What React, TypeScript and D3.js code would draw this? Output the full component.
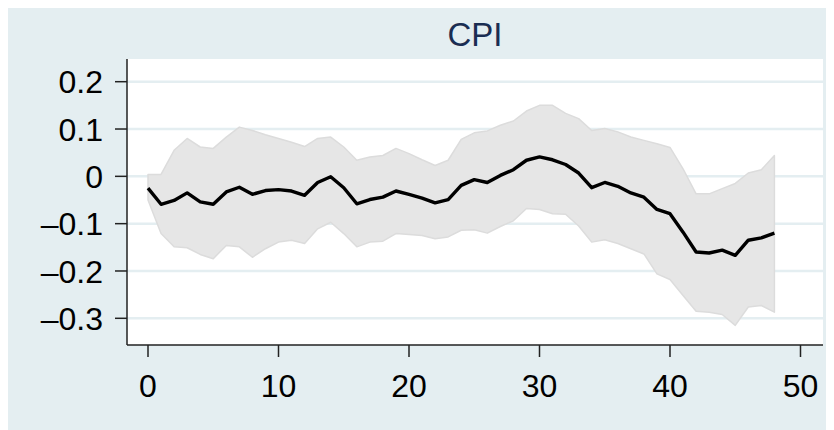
import React from "react";
import * as d3 from "d3";

const periods: number[] = Array.from({ length: 49 }, (_, i) => i);

const irf: number[] = [
  -0.025, -0.059, -0.051, -0.035, -0.054, -0.059, -0.033, -0.023, -0.038, -0.030,
  -0.028, -0.031, -0.040, -0.013, -0.001, -0.024, -0.058, -0.049, -0.044, -0.031,
  -0.038, -0.046, -0.056, -0.049, -0.019, -0.007, -0.013, 0.002, 0.014, 0.034,
  0.041, 0.035, 0.025, 0.007, -0.024, -0.013, -0.021, -0.035, -0.044, -0.070,
  -0.079, -0.118, -0.160, -0.162, -0.156, -0.167, -0.135, -0.130, -0.120,
];

const upper: number[] = [
  0.004, 0.004, 0.055, 0.080, 0.062, 0.059, 0.083, 0.104, 0.097, 0.088,
  0.080, 0.072, 0.063, 0.080, 0.083, 0.062, 0.034, 0.041, 0.044, 0.059,
  0.048, 0.035, 0.023, 0.034, 0.078, 0.092, 0.096, 0.108, 0.117, 0.138,
  0.150, 0.150, 0.133, 0.122, 0.097, 0.101, 0.094, 0.083, 0.076, 0.069,
  0.061, 0.016, -0.037, -0.037, -0.026, -0.015, 0.007, 0.014, 0.044,
];

const lower: number[] = [
  -0.050, -0.121, -0.149, -0.151, -0.165, -0.174, -0.146, -0.149, -0.171, -0.153,
  -0.139, -0.135, -0.142, -0.111, -0.097, -0.121, -0.149, -0.139, -0.137, -0.121,
  -0.123, -0.125, -0.132, -0.128, -0.114, -0.113, -0.120, -0.106, -0.094, -0.068,
  -0.070, -0.079, -0.080, -0.105, -0.139, -0.134, -0.142, -0.153, -0.164, -0.206,
  -0.218, -0.252, -0.285, -0.287, -0.292, -0.315, -0.276, -0.273, -0.287,
];

const yTicks: number[] = [0.2, 0.1, 0, -0.1, -0.2, -0.3];
const xTicks: number[] = [0, 10, 20, 30, 40, 50];
const title = "CPI";

const W = 826;
const H = 422;
const plot = { left: 119, right: 815, top: 51, bottom: 337 };
const FONT = "'Liberation Sans', Arial, Helvetica, sans-serif";

const fmtY = (v: number) => {
  if (v === 0) return "0";
  const s = Math.abs(v).toFixed(1);
  return v < 0 ? "\u2013" + s : s;
};

export default function App() {
  const x = d3.scaleLinear().domain([0, 50]).range([140, 792.5]);
  const y = d3.scaleLinear().domain([-0.3, 0.2]).range([310.3, 73.7]);

  const area = d3
    .area<number>()
    .x((d) => x(d))
    .y0((d) => y(lower[d]))
    .y1((d) => y(upper[d]));
  const line = d3
    .line<number>()
    .x((d) => x(d))
    .y((d) => y(irf[d]));

  return (
    <svg width={W} height={H} style={{ display: "block" }} fontFamily={FONT}>
      <rect x={0} y={0} width={W} height={H} fill="#e4eef1" />
      <rect
        x={plot.left}
        y={plot.top}
        width={plot.right - plot.left}
        height={plot.bottom - plot.top}
        fill="#ffffff"
      />
      {yTicks.map((t) => (
        <line
          key={"g" + t}
          x1={plot.left}
          x2={plot.right}
          y1={y(t)}
          y2={y(t)}
          stroke="#e4eef1"
          strokeWidth={2.5}
        />
      ))}
      <path
        d={area(periods) || ""}
        fill="#e6e6e6"
        stroke="#dcdcdc"
        strokeWidth={1.5}
        strokeLinejoin="round"
      />
      <path
        d={line(periods) || ""}
        fill="none"
        stroke="#000000"
        strokeWidth={3.4}
        strokeLinejoin="round"
      />
      <line x1={plot.left} x2={plot.left} y1={plot.top} y2={plot.bottom} stroke="#222" strokeWidth={1.5} />
      <line x1={plot.left} x2={plot.right} y1={plot.bottom} y2={plot.bottom} stroke="#222" strokeWidth={1.5} />
      {yTicks.map((t) => (
        <g key={"y" + t}>
          <line x1={plot.left - 12} x2={plot.left} y1={y(t)} y2={y(t)} stroke="#222" strokeWidth={1.5} />
          <text
            x={plot.left - 24}
            y={y(t)}
            dy="0.36em"
            textAnchor="end"
            fontSize={32}
            fill="#000"
          >
            {fmtY(t)}
          </text>
        </g>
      ))}
      {xTicks.map((t) => (
        <g key={"x" + t}>
          <line x1={x(t)} x2={x(t)} y1={plot.bottom} y2={plot.bottom + 12} stroke="#222" strokeWidth={1.5} />
          <text x={x(t)} y={389} textAnchor="middle" fontSize={32} fill="#000">
            {t}
          </text>
        </g>
      ))}
      <text
        x={(plot.left + plot.right) / 2}
        y={38}
        textAnchor="middle"
        fontSize={33}
        fill="#1a2d52"
      >
        {title}
      </text>
    </svg>
  );
}
